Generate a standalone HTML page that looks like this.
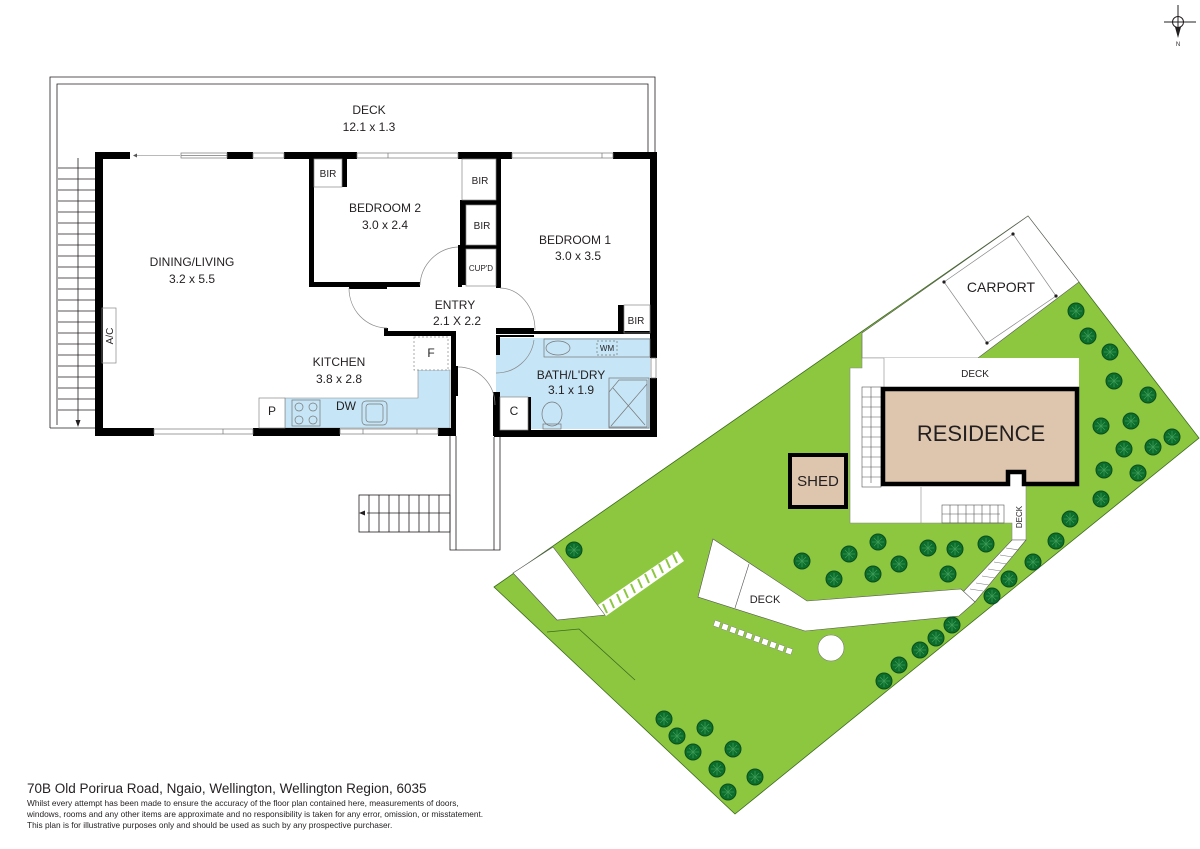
<!DOCTYPE html>
<html><head><meta charset="utf-8"><style>
html,body{margin:0;padding:0;background:#fff}
svg{display:block}
text{font-family:"Liberation Sans Narrow","Liberation Sans",sans-serif;fill:#231f20}
.ft{font-family:"Liberation Sans",sans-serif}
</style></head><body>
<svg width="1200" height="849" viewBox="0 0 1200 849" xmlns="http://www.w3.org/2000/svg">
<defs>
<g id="tr"><circle r="8" fill="#0d6e2c" stroke="#0a4f1e" stroke-width="1"/><path d="M0-6V6M-6 0H6M-4-4L4 4M-4 4L4-4" stroke="#3a9a55" stroke-width="0.8"/></g>
</defs>
<!-- compass -->
<g stroke="#231f20" stroke-width="1" fill="none">
<line x1="1164" y1="22" x2="1196" y2="22"/><line x1="1178" y1="5" x2="1178" y2="30"/>
<circle cx="1178" cy="22" r="5.5"/></g>
<path d="M1175 27L1181 27L1178 38Z" fill="#231f20"/>
<text x="1178" y="46" font-size="6" text-anchor="middle">N</text>

<!-- ============ FLOOR PLAN ============ -->
<g fill="none" stroke="#231f20" stroke-width="0.8">
<path d="M50 428V77H655V152"/>
<path d="M57 425V84H648V152"/>
<line x1="50" y1="428" x2="97" y2="428"/>
</g>
<g stroke="#231f20" stroke-width="0.8" fill="none">
<line x1="78" y1="158" x2="78" y2="425"/>
<path d="M58 168H95M58 179H95M58 190H95M58 201H95M58 212H95M58 223H95M58 234H95M58 245H95M58 256H95M58 267H95M58 278H95M58 289H95M58 300H95M58 311H95M58 322H95M58 333H95M58 344H95M58 355H95M58 366H95M58 377H95M58 388H95M58 399H95M58 410H95"/>
</g>
<path d="M75.5 420L80.5 420L78 427Z" fill="#231f20"/>

<path d="M285 398H418V370H450V428H285Z" fill="#c6e5f6" stroke="#888" stroke-width="0.6"/>
<rect x="496" y="338" width="154" height="91" fill="#c6e5f6"/>
<g fill="#000">
<rect x="95" y="152" width="35" height="7"/>
<rect x="227" y="152" width="26" height="7"/>
<rect x="284" y="152" width="73" height="7"/>
<rect x="458" y="152" width="54" height="7"/>
<rect x="613" y="152" width="44" height="7"/>
<rect x="95" y="152" width="8" height="284"/>
<rect x="650" y="152" width="7" height="206"/>
<rect x="650" y="378" width="7" height="59"/>
<rect x="95" y="428" width="59" height="8"/>
<rect x="253" y="428" width="87" height="8"/>
<rect x="438" y="428" width="18" height="8"/>
<rect x="494" y="430" width="163" height="7"/>
<rect x="309" y="159" width="5" height="128"/>
<rect x="309" y="282" width="111" height="5"/>
<rect x="342" y="159" width="5" height="28"/>
<rect x="349" y="287" width="38" height="2"/>
<rect x="460" y="200" width="40" height="5"/>
<rect x="460" y="245" width="40" height="4"/>
<rect x="460" y="200" width="6" height="85"/>
<rect x="496" y="159" width="5" height="129"/>
<rect x="458" y="245" width="4" height="42"/>
<rect x="384" y="328" width="4" height="7"/>
<rect x="384" y="331" width="72" height="5"/>
<rect x="451" y="331" width="5" height="62"/>
<rect x="455" y="366" width="3" height="30"/>
<rect x="451" y="393" width="5" height="43"/>
<rect x="496" y="328" width="38" height="3"/>
<rect x="496" y="335" width="38" height="2"/>
<rect x="493" y="392" width="7" height="44"/>
<rect x="496" y="335" width="4" height="20"/>
<rect x="618" y="305" width="6" height="28"/>
<rect x="496" y="331" width="154" height="3"/>
<rect x="528" y="397" width="3" height="33"/>
</g>
<g stroke="#777" stroke-width="0.7" fill="#fff">
<rect x="181" y="153" width="46" height="5"/><line x1="181" y1="155.5" x2="227" y2="155.5"/>
<rect x="253" y="153" width="31" height="5"/>
<rect x="357" y="153" width="101" height="5"/><line x1="388" y1="153" x2="388" y2="158"/>
<rect x="512" y="153" width="101" height="5"/><line x1="602" y1="153" x2="602" y2="158"/>
<rect x="154" y="429" width="99" height="5"/><line x1="223" y1="429" x2="223" y2="434"/>
<rect x="340" y="429" width="98" height="5"/><line x1="363" y1="429" x2="363" y2="434"/><line x1="417" y1="429" x2="417" y2="434"/>
<rect x="651" y="358" width="5" height="20"/>
</g>
<line x1="134" y1="155.5" x2="180" y2="155.5" stroke="#777" stroke-width="0.6"/>
<path d="M133 155.5L137 153.5V157.5Z" fill="#555"/>
<g fill="none" stroke="#888" stroke-width="0.7">
<rect x="314" y="159" width="28" height="28"/>
<rect x="462" y="159" width="34" height="41"/>
<rect x="466" y="205" width="30" height="40"/>
<rect x="466" y="249" width="30" height="37"/>
<rect x="624" y="305" width="26" height="28"/>
<rect x="102" y="308" width="14" height="55"/>
<rect x="259" y="398" width="26" height="30" fill="#fff"/>
<rect x="500" y="397" width="28" height="33" fill="#fff"/>
<rect x="414" y="337" width="34" height="33" stroke-dasharray="2 2" fill="#fff"/>
</g>
<g fill="none" stroke="#888" stroke-width="0.7">
<path d="M349 288A38 40 0 0 0 387 328"/>
<path d="M420 285A40 40 0 0 1 458 247"/>
<path d="M500 288A35 42 0 0 1 535 330"/>
<path d="M458 367A37 38 0 0 1 495 405"/>
<path d="M496 373A38 38 0 0 0 534 340"/>
</g>
<g fill="none" stroke="#777" stroke-width="0.7">
<rect x="292" y="400" width="28" height="26"/>
<circle cx="299" cy="407" r="4"/><circle cx="313" cy="407" r="4"/>
<circle cx="299" cy="420" r="4"/><circle cx="313" cy="420" r="4"/>
<rect x="362" y="401" width="25" height="24" rx="4"/><rect x="366" y="404" width="17" height="18" rx="3"/>
<rect x="544" y="339" width="106" height="18"/>
<ellipse cx="558" cy="348" rx="12" ry="7"/>
<rect x="597" y="341" width="20" height="14" stroke-dasharray="2 2"/>
<rect x="609" y="378" width="40" height="50"/>
<path d="M619 380L647 380L647 427L609 427L609 392Z"/>
<path d="M613 388L645 425M647 384L611 426"/>
<ellipse cx="552" cy="414" rx="10" ry="12"/>
<rect x="543" y="424" width="18" height="5"/>
</g>
<g fill="none" stroke="#231f20" stroke-width="0.8">
<path d="M450 436V550H500V437"/>
<path d="M456 436V550M494 437V550"/>
<rect x="359" y="495" width="91" height="37"/>
<line x1="367" y1="513" x2="450" y2="513"/>
<path d="M369 495V532M379 495V532M389 495V532M399 495V532M409 495V532M419 495V532M429 495V532M439 495V532"/>
</g>
<path d="M359 513L365 510.5V515.5Z" fill="#231f20"/>

<g font-size="12" text-anchor="middle">
<text x="369" y="114">DECK</text><text x="369" y="131">12.1 x 1.3</text>
<text x="385" y="212">BEDROOM 2</text><text x="385" y="229">3.0 x 2.4</text>
<text x="575" y="244">BEDROOM 1</text><text x="578" y="260">3.0 x 3.5</text>
<text x="192" y="266">DINING/LIVING</text><text x="192" y="283">3.2 x 5.5</text>
<text x="455" y="309">ENTRY</text><text x="457" y="325">2.1 X 2.2</text>
<text x="339" y="366">KITCHEN</text><text x="339" y="383">3.8 x 2.8</text>
<text x="571" y="379">BATH/L'DRY</text><text x="571" y="394">3.1 x 1.9</text>
<text x="346" y="410">DW</text>
<text x="272" y="415">P</text>
<text x="431" y="357">F</text>
<text x="514" y="415">C</text>
</g>
<g font-size="10" text-anchor="middle">
<text x="328" y="177">BIR</text><text x="480" y="184">BIR</text><text x="482" y="229">BIR</text><text x="636" y="324">BIR</text>
<text x="481" y="271" font-size="8">CUP'D</text>
<text x="607" y="351" font-size="8">WM</text>
<text transform="translate(113,336) rotate(-90)" font-size="10">A/C</text>
</g>

<!-- ============ SITE PLAN ============ -->
<path d="M494 587L1028 216L1199 438L735 814Z" fill="#8dc63f" stroke="#3c6b1f" stroke-width="0.8"/>
<path d="M862 333L1028 216L1079 282L978 358L862 358Z" fill="#fff" stroke="#555" stroke-width="0.6"/>
<line x1="862" y1="333" x2="862" y2="358" stroke="#888" stroke-width="0.6"/>
<path d="M944 282L1013 234L1056 296L987 343Z" fill="none" stroke="#888" stroke-width="0.7"/>
<g fill="#231f20"><circle cx="944" cy="282" r="1.6"/><circle cx="1013" cy="234" r="1.6"/><circle cx="1056" cy="296" r="1.6"/><circle cx="987" cy="343" r="1.6"/></g>
<rect x="862" y="358" width="217" height="31" fill="#fff"/>
<path d="M850 368H862V358H884V470H1026V540L1012 540V523H850Z" fill="#fff" stroke="#888" stroke-width="0.6"/>
<line x1="921" y1="487" x2="921" y2="523" stroke="#888" stroke-width="0.6"/>
<g stroke="#555" stroke-width="0.6" fill="none">
<rect x="862" y="387" width="19" height="100"/>
<line x1="871" y1="387" x2="871" y2="483"/>
<path d="M862 397H881M862 407H881M862 417H881M862 427H881M862 437H881M862 447H881M862 457H881M862 467H881M862 477H881"/>
<rect x="942" y="505" width="62" height="18"/>
<line x1="942" y1="514" x2="1000" y2="514"/>
<path d="M950 505V523M958 505V523M966 505V523M974 505V523M982 505V523M990 505V523M998 505V523"/>
</g>
<path d="M883 389H1077V484H1024V472H1008V484H883Z" fill="#dec6ae" stroke="#000" stroke-width="4.5"/>
<text x="981" y="441" font-size="22" text-anchor="middle" font-family="Liberation Sans, sans-serif">RESIDENCE</text>
<text x="975" y="377" font-size="10" text-anchor="middle">DECK</text>
<text x="1001" y="292" font-size="14" text-anchor="middle">CARPORT</text>
<text transform="translate(1022,517) rotate(-90)" font-size="8" text-anchor="middle">DECK</text>
<rect x="790" y="455" width="56" height="52" fill="#dec6ae" stroke="#000" stroke-width="4"/>
<text x="818" y="486" font-size="15" text-anchor="middle">SHED</text>
<path d="M1012 540L1026 540L975 602L963 592Z" fill="#fff" stroke="#555" stroke-width="0.6"/>
<path d="M1006 548L1019 550M1000 555L1013 557M994 562L1007 564M988 569L1001 571M982 576L995 578M976 583L989 585M970 589L983 591" stroke="#777" stroke-width="0.6"/>
<path d="M713 539L807 601L961 589L975 602L959 616L805 631L698 597Z" fill="#fff" stroke="#555" stroke-width="0.6"/>
<line x1="749" y1="564" x2="735" y2="608" stroke="#555" stroke-width="0.6"/>
<text x="765" y="603" font-size="11" text-anchor="middle">DECK</text>
<path d="M513 573L553 547L605 615L557 620Z" fill="#fff" stroke="#555" stroke-width="0.6"/>
<path d="M598 605L677 551L684 561L606 616Z" fill="#fff"/>
<path d="M603 604L607 613M610 599L614 608M617 594L621 603M624 589L628 598M631 584L635 593M638 579L642 588M645 574L649 583M652 569L656 578M659 564L663 573M666 559L670 568M673 554L677 563" stroke="#8dc63f" stroke-width="2"/>
<path d="M547 632L579 629L635 680" fill="none" stroke="#3c6b1f" stroke-width="0.8"/>
<g fill="#fff" stroke="#777" stroke-width="0.4">
<rect x="714" y="621" width="6" height="6" transform="rotate(20 717 624)"/>
<rect x="722" y="624" width="6" height="6" transform="rotate(20 725 627)"/>
<rect x="730" y="627" width="6" height="6" transform="rotate(20 733 630)"/>
<rect x="738" y="630" width="6" height="6" transform="rotate(20 741 633)"/>
<rect x="746" y="633" width="6" height="6" transform="rotate(20 749 636)"/>
<rect x="754" y="636" width="6" height="6" transform="rotate(20 757 639)"/>
<rect x="762" y="639" width="6" height="6" transform="rotate(20 765 642)"/>
<rect x="770" y="642" width="6" height="6" transform="rotate(20 773 645)"/>
<rect x="778" y="645" width="6" height="6" transform="rotate(20 781 648)"/>
<rect x="786" y="648" width="6" height="6" transform="rotate(20 789 651)"/>
</g>
<circle cx="831" cy="648" r="13" fill="#fff" stroke="#777" stroke-width="0.6"/>
<g>
<use href="#tr" x="574" y="550"/><use href="#tr" x="802" y="561"/><use href="#tr" x="849" y="554"/><use href="#tr" x="878" y="542"/>
<use href="#tr" x="899" y="564"/><use href="#tr" x="873" y="574"/><use href="#tr" x="834" y="579"/><use href="#tr" x="928" y="548"/>
<use href="#tr" x="955" y="549"/><use href="#tr" x="986" y="544"/><use href="#tr" x="948" y="574"/><use href="#tr" x="1009" y="579"/>
<use href="#tr" x="992" y="596"/><use href="#tr" x="1033" y="562"/><use href="#tr" x="1056" y="541"/><use href="#tr" x="1070" y="519"/>
<use href="#tr" x="1101" y="499"/><use href="#tr" x="1138" y="473"/><use href="#tr" x="1104" y="470"/><use href="#tr" x="1153" y="447"/>
<use href="#tr" x="1172" y="437"/><use href="#tr" x="1124" y="449"/><use href="#tr" x="1101" y="426"/><use href="#tr" x="1131" y="421"/>
<use href="#tr" x="1148" y="395"/><use href="#tr" x="1114" y="381"/><use href="#tr" x="1110" y="352"/><use href="#tr" x="1088" y="336"/>
<use href="#tr" x="1076" y="311"/><use href="#tr" x="952" y="625"/><use href="#tr" x="936" y="638"/><use href="#tr" x="920" y="650"/>
<use href="#tr" x="899" y="665"/><use href="#tr" x="884" y="681"/>
<use href="#tr" x="664" y="719"/><use href="#tr" x="677" y="736"/><use href="#tr" x="693" y="752"/><use href="#tr" x="705" y="728"/>
<use href="#tr" x="733" y="749"/><use href="#tr" x="717" y="769"/><use href="#tr" x="755" y="777"/><use href="#tr" x="728" y="792"/>
</g>

<text class="ft" x="27" y="793" font-size="13.5">70B Old Porirua Road, Ngaio, Wellington, Wellington Region, 6035</text>
<g class="ft" font-size="8.3" fill="#333">
<text class="ft" x="27" y="806">Whilst every attempt has been made to ensure the accuracy of the floor plan contained here, measurements of doors,</text>
<text class="ft" x="27" y="817">windows, rooms and any other items are approximate and no responsibility is taken for any error, omission, or misstatement.</text>
<text class="ft" x="27" y="828">This plan is for illustrative purposes only and should be used as such by any prospective purchaser.</text>
</g>
</svg>
</body></html>
